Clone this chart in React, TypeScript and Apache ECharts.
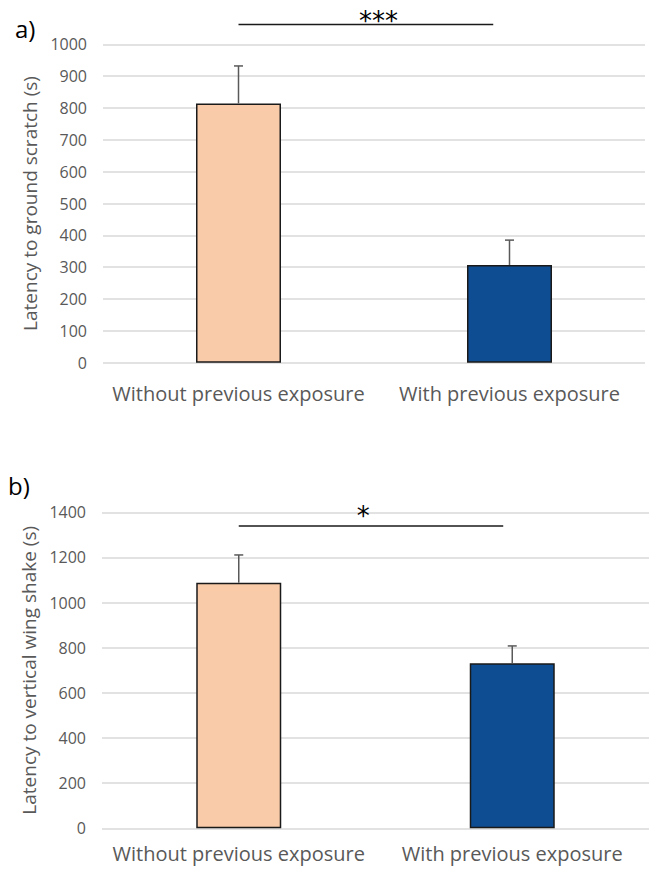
import React, { useEffect, useRef } from "react";
import * as echarts from "echarts";

const categories = ["Without previous exposure", "With previous exposure"];
const scratchMeans = [814, 307];
const scratchUpper = [932, 385];
const shakeMeans = [1088, 731];
const shakeUpper = [1211, 808];
const barColors = ["#F9CBA9", "#0E4D92"];
const yTicksA = { min: 0, max: 1000, interval: 100 };
const yTicksB = { min: 0, max: 1400, interval: 200 };
// significance bracket: line level, fraction toward second category where it ends,
// label level and label position (fraction between categories)
const sigA = { level: 1062, frac: 0.94, labelLevel: 1090, labelFrac: 0.517, label: "***" };
const sigB = { level: 1339, frac: 0.967, labelLevel: 1410, labelFrac: 0.455, label: "*" };

const FONT = "'Open Sans', 'Noto Sans', sans-serif";
const GREY = "#595959";

function errorSeries(gridIdx: number, means: number[], upper: number[]) {
  return {
    type: "custom",
    xAxisIndex: gridIdx,
    yAxisIndex: gridIdx,
    z: 5,
    silent: true,
    data: means.map((m, i) => [i, m, upper[i]]),
    renderItem: (params: any, api: any) => {
      const p0 = api.coord([api.value(0), api.value(1)]);
      const p1 = api.coord([api.value(0), api.value(2)]);
      const st = { stroke: GREY, lineWidth: 1.5 };
      return {
        type: "group",
        children: [
          { type: "line", shape: { x1: p0[0], y1: p0[1], x2: p1[0], y2: p1[1] }, style: st },
          { type: "line", shape: { x1: p1[0] - 4.5, y1: p1[1], x2: p1[0] + 4.5, y2: p1[1] }, style: st },
        ],
      };
    },
  };
}

function sigSeries(gridIdx: number, sig: any) {
  return {
    type: "custom",
    xAxisIndex: gridIdx,
    yAxisIndex: gridIdx,
    z: 6,
    silent: true,
    clip: false,
    data: [[0, sig.level, sig.frac, sig.labelLevel, sig.labelFrac]],
    renderItem: (params: any, api: any) => {
      const a = api.coord([0, api.value(1)]);
      const b = api.coord([1, api.value(1)]);
      const xEnd = a[0] + api.value(2) * (b[0] - a[0]);
      const lab = api.coord([0, api.value(3)]);
      const xLab = a[0] + api.value(4) * (b[0] - a[0]);
      return {
        type: "group",
        children: [
          { type: "line", shape: { x1: a[0], y1: a[1], x2: xEnd, y2: a[1] }, style: { stroke: "#1a1a1a", lineWidth: 1.6 } },
          {
            type: "text",
            x: xLab,
            y: lab[1] + 5.5,
            style: { text: sig.label, fill: "#000", font: "26px 'DejaVu Sans', sans-serif", align: "center", verticalAlign: "middle" },
          },
        ],
      };
    },
  };
}

export default function App() {
  const ref = useRef<HTMLDivElement>(null);
  useEffect(() => {
    if (!ref.current) return;
    const chart = echarts.init(ref.current, undefined, { renderer: "svg" });
    const xAxisBase = (gridIndex: number, margin: number) => ({
      type: "category",
      gridIndex,
      data: categories,
      axisLine: { show: false },
      axisTick: { show: false },
      axisLabel: { color: GREY, fontSize: 20, fontFamily: FONT, margin, interval: 0 },
    });
    const yAxisBase = (gridIndex: number, t: any, name: string) => ({
      type: "value",
      gridIndex,
      min: t.min,
      max: t.max,
      interval: t.interval,
      name,
      nameLocation: "middle",
      nameGap: 56,
      nameTextStyle: { color: GREY, fontSize: 19, fontFamily: FONT },
      axisLine: { show: false },
      axisTick: { show: false },
      axisLabel: { color: GREY, fontSize: 16, fontFamily: FONT, margin: 16, formatter: (v: number) => String(v) },
      splitLine: { lineStyle: { color: "#D9D9D9", width: 1.5 } },
    });
    const barSeries = (gridIdx: number, vals: number[]) => ({
      type: "bar",
      xAxisIndex: gridIdx,
      yAxisIndex: gridIdx,
      barWidth: 85,
      data: vals.map((v, i) => ({
        value: v,
        itemStyle: { color: barColors[i], borderColor: "#1a1a1a", borderWidth: 1.5 },
      })),
    });
    chart.setOption({
      animation: false,
      backgroundColor: "#fff",
      grid: [
        { left: 103, right: 8, top: 44.3, height: 318.4 },
        { left: 102, right: 4, top: 512.3, height: 316 },
      ],
      xAxis: [xAxisBase(0, 21), xAxisBase(1, 15)],
      yAxis: [
        yAxisBase(0, yTicksA, "Latency to ground scratch (s)"),
        yAxisBase(1, yTicksB, "Latency to vertical wing shake (s)"),
      ],
      series: [
        barSeries(0, scratchMeans),
        errorSeries(0, scratchMeans, scratchUpper),
        sigSeries(0, sigA),
        barSeries(1, shakeMeans),
        errorSeries(1, shakeMeans, shakeUpper),
        sigSeries(1, sigB),
      ],
      graphic: [
        { type: "text", left: 15, top: 16, style: { text: "a)", fill: "#000", font: `24px ${FONT}` } },
        { type: "text", left: 8, top: 473, style: { text: "b)", fill: "#000", font: `24px ${FONT}` } },
      ],
    });
    return () => chart.dispose();
  }, []);
  return (
    <div
      ref={ref}
      style={{ position: "fixed", left: 0, top: 0, width: 653, height: 870, background: "#fff" }}
    />
  );
}
